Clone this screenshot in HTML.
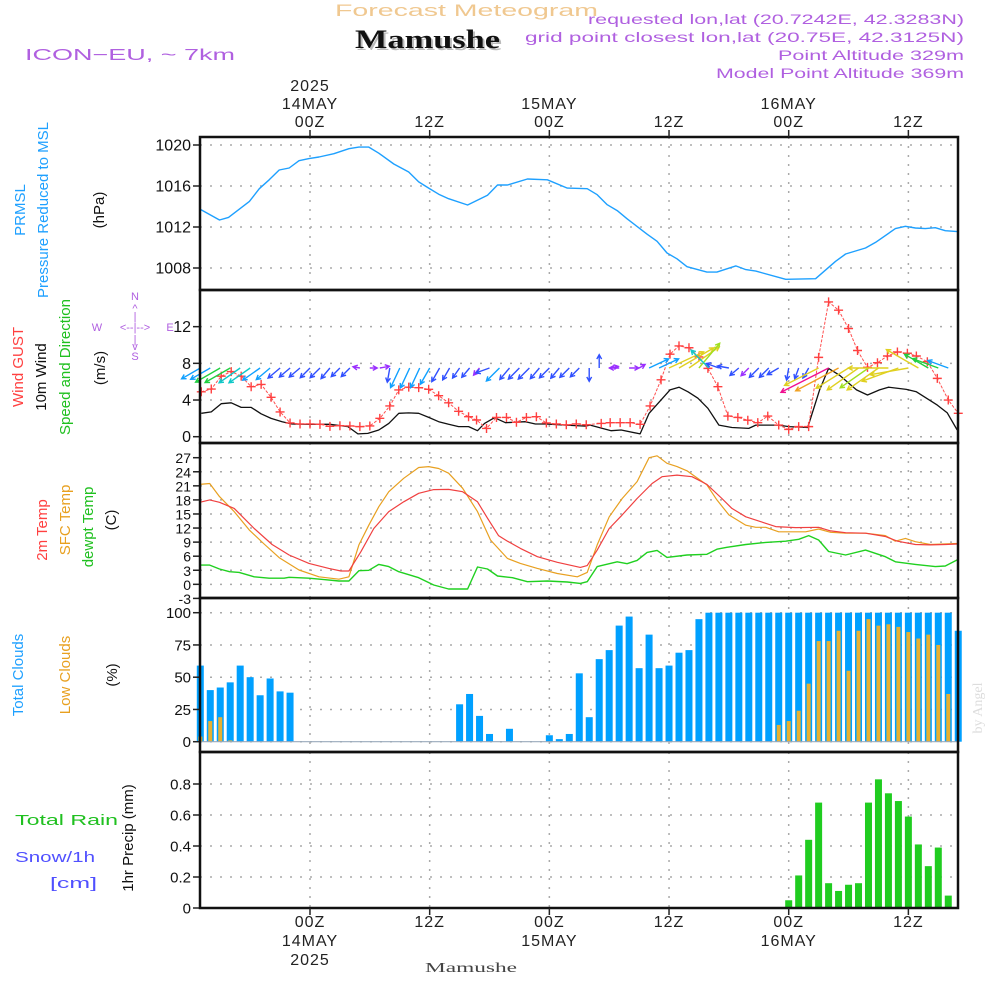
<!DOCTYPE html>
<html><head><meta charset="utf-8"><style>
html,body{margin:0;padding:0;background:#fff;}
svg{display:block;font-family:"Liberation Sans",sans-serif;}
</style></head><body>
<svg id="chart" width="1000" height="1000" viewBox="0 0 1000 1000" xmlns="http://www.w3.org/2000/svg">
<text x="335" y="16" textLength="263" lengthAdjust="spacingAndGlyphs" font-size="17" fill="#f0c890">Forecast Meteogram</text>
<text x="357" y="50" textLength="145" lengthAdjust="spacingAndGlyphs" font-size="26" font-weight="bold" font-family="Liberation Serif, serif" fill="#bbb">Mamushe</text>
<text x="355" y="48" textLength="145" lengthAdjust="spacingAndGlyphs" font-size="26" font-weight="bold" font-family="Liberation Serif, serif" fill="#111">Mamushe</text>
<text x="25" y="60" textLength="210" lengthAdjust="spacingAndGlyphs" font-size="16" fill="#b060e0">ICON−EU, ~ 7km</text>
<g font-size="14" fill="#b060e0">
<text x="588" y="24" textLength="376" lengthAdjust="spacingAndGlyphs">requested lon,lat (20.7242E, 42.3283N)</text>
<text x="525" y="42" textLength="439" lengthAdjust="spacingAndGlyphs">grid point closest lon,lat (20.75E, 42.3125N)</text>
<text x="778" y="60" textLength="186" lengthAdjust="spacingAndGlyphs">Point Altitude 329m</text>
<text x="716" y="78" textLength="248" lengthAdjust="spacingAndGlyphs">Model Point Altitude 369m</text>
</g>
<g id="grid"></g>
<g id="marks"></g>
<g id="frames"></g>
<g id="labels"></g>
<text transform="translate(982,708) rotate(-90)" text-anchor="middle" font-size="14" fill="#ddd" font-family="Liberation Serif, serif">by Angel</text>
<text x="425" y="972" textLength="92" lengthAdjust="spacingAndGlyphs" font-size="14" fill="#444" font-family="Liberation Serif, serif">Mamushe</text>
</svg>
<script>
// ---- data ----
const pressT=[-11.06,-9.07,-8.17,-6.08,-5.08,-4.09,-3.09,-2.09,-1.1,-0.1,0.9,2.4,3.9,4.9,5.9,6.9,8.4,9.9,10.9,11.9,12.9,13.9,15.8,17.8,18.8,19.8,21.8,23.8,25.8,27.8,28.8,29.8,30.8,31.8,33.8,34.8,35.8,36.8,37.8,39.8,40.8,42.7,43.7,44.7,47.7,50.7,52.7,53.7,55.7,56.7,58.7,59.7,60.7,61.7,62.7,63.7,64.9];
const pressV=[1013.76,1012.68,1012.94,1014.5,1015.74,1016.6,1017.56,1017.76,1018.47,1018.67,1018.83,1019.15,1019.64,1019.8,1019.8,1019.2,1018.15,1017.37,1016.4,1015.8,1015.2,1014.76,1014.15,1015.1,1016.1,1016.1,1016.68,1016.6,1015.8,1015.74,1015.15,1014.18,1013.6,1012.8,1011.3,1010.6,1009.46,1008.9,1008.13,1007.6,1007.6,1008.2,1007.84,1007.7,1006.9,1006.96,1008.65,1009.37,1009.95,1010.5,1011.84,1012.07,1011.9,1011.84,1011.93,1011.64,1011.55];

const gustT=[-10.9,-9.9,-8.9,-7.9,-6.9,-5.9,-4.9,-3.9,-3,-2,-1,0,1,2,3,4,5,6,7,8,8.9,9.9,10.9,11.9,12.9,13.9,14.9,15.9,16.7,17.7,18.7,19.7,20.7,21.7,22.7,23.7,24.7,25.7,26.7,27.7,29.2,30.1,31.1,32.1,33.1,34.1,35.2,36.1,37,38,39,39.9,40.9,41.9,42.9,43.9,44.9,45.9,47,48,49,50,51,52,53,54,54.9,55.9,56.9,57.9,58.9,59.9,60.8,61.9,62.9,64,65];
const gustV=[4.9,5.2,6.6,7.1,6.6,5.45,5.7,4.3,2.7,1.5,1.39,1.39,1.35,1.13,1.2,1.17,1.1,1.17,2.0,3.35,5.1,5.4,5.35,5.17,4.47,3.7,2.77,2.18,1.82,0.9,2.1,2.1,1.57,2.1,2.18,1.5,1.39,1.3,1.39,1.3,1.45,1.53,1.53,1.53,1.35,3.35,6.2,9.0,9.9,9.7,8.7,7.45,5.45,2.25,2.1,1.8,1.53,2.25,1.27,0.8,1.1,1.1,8.65,14.7,13.8,11.8,9.4,7.56,8.07,8.8,9.24,9.1,8.8,8.18,6.36,4.0,2.55];

const windT=[-10.9,-9.9,-8.9,-7.9,-6.9,-5.9,-4.9,-3.9,-2.8,-1.8,0,2,3.8,4.8,5.8,6.9,7.9,8.9,9.9,10.9,11.9,12.9,13.9,14.9,15.9,16.8,17.5,18.5,19.6,21.6,22.6,23.6,25.6,27.6,28.1,30.2,31.2,33.1,34,36.1,37,37.9,38.9,39.9,41,42.3,44,44.7,47,48,49.9,51.1,52,53.1,54.8,55.9,57.1,58,59.8,60.8,62.9,63.9,64.9];
const windV=[2.55,2.7,3.6,3.7,3.2,3.2,2.5,2.0,1.64,1.38,1.35,1.35,1.1,0.3,0.36,0.73,1.45,2.55,2.6,2.55,2.1,1.64,1.35,1.1,1.1,0.65,1.45,2.07,1.53,1.64,1.38,1.38,1.27,1.16,1.27,0.65,0.73,0.3,2.55,5.1,5.4,4.9,4.2,3.1,1.27,1.0,0.9,1.27,1.27,1.1,1.0,5.1,7.45,6.7,5.1,4.55,5.1,5.4,5.16,4.9,3.45,2.6,0.73];

// arrow hours and meteorological direction (from, degrees)
const arrowT=[-11,-10,-9,-8,-7,-6,-5,-4,-3,-2,-1,0,1,2,3,4,5,6,7,8,9,10,11,12,13,14,15,16,17,18,19,20,21,22,23,24,25,26,27,28,29,30,31,32,33,34,35,36,37,38,39,40,41,42,43,44,45,46,47,48,49,50,51,52,53,54,55,56,57,58,59,60,61,62,63,64];
const arrowDir=[60,60,60,60,55,55,55,50,50,50,50,45,45,40,45,45,100,270,260,10,25,25,25,30,30,30,35,40,40,70,45,40,45,45,40,45,40,45,45,0,180,260,90,270,240,245,245,245,240,235,220,135,110,100,50,45,45,45,60,10,20,30,63,63,62,58,55,55,55,90,70,80,120,120,110,110];

const t2mT=[-11.06,-10.06,-9.07,-7.6,-5.6,-3.8,-2.1,-0.1,1.9,3.1,3.9,5.1,6.4,7.9,9.4,10.9,12.4,13.9,15.3,16.8,17.8,18.9,19.8,21.1,22.8,24.8,27.1,27.8,28.8,30,31.3,32.8,34.3,35.3,36.8,38.3,39.8,41.3,42.3,43.7,45.2,46.7,48.7,51,52.2,53.7,55.7,57.7,58.9,60.7,62.2,63.7,64.9];
const t2mV=[17.48,18,17.5,16.2,11.9,8.5,6.25,4.47,3.4,2.84,2.84,6.96,11.9,15.5,17.6,19.4,20.2,20.25,19.75,17.6,14.1,10.4,9.2,7.67,5.9,4.7,3.6,4,7.3,11.9,14.8,18.3,21.5,22.95,23.3,22.95,21.3,18.3,16.2,14.4,13.35,12.3,12.1,12.15,11.4,11,10.9,10.2,9.2,8.5,8.4,8.5,8.6];
const sfcT=[-11.06,-10.06,-9.07,-7.6,-6.1,-4.6,-3.1,-1.1,0.9,2.9,3.9,4.9,5.9,6.9,7.9,9.4,10.9,11.9,12.9,13.9,15.3,16.8,18.1,19.8,21.1,22.8,24.8,26.8,27.8,28.8,30,31.3,32.8,34,34.8,35.8,36.8,37.8,39.8,40.8,42,43.7,44.7,45.7,47,49.7,51,52.2,53.7,55.7,57.7,58.7,59.7,60.7,62.2,64.9];
const sfcV=[21.3,21.5,18.7,15.5,11.6,8.6,5.7,3.05,1.6,1.1,1.6,8.4,12.6,16.55,19.75,22.6,24.9,25.1,24.7,23.7,20.5,15.5,9.45,5.5,4.47,3.4,2.3,1.6,2.55,8.4,14.4,18.3,21.9,27,27.4,25.8,25.1,24.2,21.2,18,14.8,12.6,12.15,12.15,11.2,11.2,11.8,11.1,10.9,10.9,10.4,9.2,9.8,9.1,8.5,8.7];
const dewT=[-11.06,-10.06,-9.07,-8.07,-7.1,-5.6,-4.1,-2.6,-2.1,-0.1,1.4,2.9,3.9,4.9,5.9,6.9,7.9,8.9,10.9,12.4,13.9,15.8,16.8,17.8,18.8,20.3,21.8,23.8,25.8,27.1,27.8,28.8,30.8,31.8,32.8,33.8,34.8,35.8,37.8,39.8,40.8,41.8,43.7,45.7,47.7,49,50,51,52,53.7,55.7,57.7,58.7,60.7,62.7,63.7,64.9];
const dewV=[4.1,4.1,3.26,2.7,2.55,1.6,1.3,1.3,1.5,1.3,1,0.7,0.7,2.9,3,4.26,3.77,2.7,1.42,-0.14,-1,-1,3.7,3.26,1.77,1.42,0.57,0.7,0.5,0.2,0.57,3.77,4.8,4.4,5.1,6.8,7.24,5.75,6.25,6.4,7.5,7.9,8.5,8.95,9.2,9.6,10.4,9.45,7,6.25,7.3,5.9,4.8,4.26,3.77,3.9,5.2];

const cloudT=[-11,-10,-9,-8,-7,-6,-5,-4,-3,-2,-1,0,1,2,3,4,5,6,7,8,9,10,11,12,13,14,15,16,17,18,19,20,21,22,23,24,25,26,27,28,29,30,31,32,33,34,35,36,37,38,39,40,41,42,43,44,45,46,47,48,49,50,51,52,53,54,55,56,57,58,59,60,61,62,63,64,65];
const totalCloud=[59,40,42,46,59,50,36,49,39,38,0,0,0,0,0,0,0,0,0,0,0,0,0,0,0,0,29,37,20,6,0,10,0,0,0,5,2,6,53,19,64,71,90,97,57,83,57,59,69,71,95,100,100,100,100,100,100,100,100,100,100,100,100,100,100,100,100,100,100,100,100,100,100,100,100,100,86];
const lowCloud=[4,16,19,1,0,0,0,0,0,0,0,0,0,0,0,0,0,0,0,0,0,0,0,0,0,0,0,0,0,0,0,0,0,0,0,0,0,0,0,0,0,0,0,0,0,0,0,0,0,0,0,0,0,0,0,0,0,0,13,16,24,45,78,78,86,55,86,95,90,91,89,85,80,83,75,37,0];

const rainT=[48,49,50,51,52,53,54,55,56,57,58,59,60,61,62,63,64];
const rainV=[0.05,0.21,0.44,0.68,0.16,0.11,0.15,0.16,0.68,0.83,0.74,0.69,0.59,0.41,0.27,0.39,0.08];

const presTicks=[1020,1016,1012,1008];
const windTicks=[12,8,4,0];
const tempTicks=[27,24,21,18,15,12,9,6,3,0,-3];
const cloudTicks=[100,75,50,25,0];
const rainTicks=[0.8,0.6,0.4,0.2,0];
const timeTicks=[0,12,24,36,48,60];
const topLabels=[["00Z","14MAY","2025"],["12Z"],["00Z","15MAY"],["12Z"],["00Z","16MAY"],["12Z"]];

// ---- scales ----
const L=200,R=958;
const X=t=>310+9.973*t;
const yP=p=>145+(1020-p)*10.25;
const yW=w=>436.7-w*9.17;
const yT=c=>457.7+(27-c)*4.69;
const yC=c=>741.7-c*1.29;
const yR=r=>908-r*155;
const panels=[[137,290],[290,443],[443,598],[598,752],[752,908]];

const NS="http://www.w3.org/2000/svg";
function mk(tag,attrs,parent,text){const e=document.createElementNS(NS,tag);for(const k in attrs)e.setAttribute(k,attrs[k]);if(text!==undefined)e.textContent=text;parent.appendChild(e);return e;}
const grid=document.getElementById('grid'),marks=document.getElementById('marks'),frames=document.getElementById('frames'),labels=document.getElementById('labels');

panels.forEach((p,i)=>{
  timeTicks.forEach(t=>{
    const g=mk('line',{x1:X(t),x2:X(t),y1:p[0],y2:p[1],stroke:'#aaa','stroke-width':1.5,'stroke-dasharray':'2,7'},grid);
    
    
  });
});
function hTicks(ticks,yf,name,fs){
  ticks.forEach(v=>{
    const y=yf(v);
    const g=mk('line',{x1:L,x2:R,y1:y,y2:y,stroke:'#aaa','stroke-width':1.5,'stroke-dasharray':'2,8'},grid);
    
    
    mk('line',{x1:L-7,x2:L,y1:y,y2:y,stroke:'#222','stroke-width':1.5},frames);
    const tx=mk('text',{x:L-9,y:y+5.5,'text-anchor':'end','font-size':fs,fill:'#111'},labels,String(v));
    
    
  });
}
hTicks(presTicks,yP,'pressure',16);
hTicks(windTicks,yW,'wind',16);
hTicks(tempTicks,yT,'temp',14);
hTicks(cloudTicks,yC,'cloud',15);
hTicks(rainTicks,yR,'precip',15);

function line(ts,vs,yf,color,name,w){
  const d=ts.map((t,i)=>(i?'L':'M')+X(t).toFixed(1)+','+yf(vs[i]).toFixed(1)).join('');
  const p=mk('path',{d:d,fill:'none',stroke:color,'stroke-width':w||1.3,'stroke-linejoin':'round'},marks);
  
  
  return p;
}
line(pressT,pressV,yP,'#1ea0ff','pressure-line',1.4);
cloudT.forEach((t,i)=>{
  if(totalCloud[i]>0){
    const b=mk('rect',{x:X(t)-3.5,y:yC(totalCloud[i]),width:7,height:yC(0)-yC(totalCloud[i]),fill:'#00a0ff'},marks);
    
    
  }
  if(lowCloud[i]>0){
    const b=mk('rect',{x:X(t)-2,y:yC(lowCloud[i]),width:4,height:yC(0)-yC(lowCloud[i]),fill:'#e8b030'},marks);
    
    
  }
});
mk('line',{x1:L,x2:R,y1:yC(0),y2:yC(0),stroke:'#9ab','stroke-width':1.2},marks);
rainT.forEach((t,i)=>{
  const b=mk('rect',{x:X(t)-3.5,y:yR(rainV[i]),width:7,height:yR(0)-yR(rainV[i]),fill:'#20cc20'},marks);
  
  
});
line(sfcT,sfcV,yT,'#e8a020','sfc-temp-line',1.2);
line(t2mT,t2mV,yT,'#f04040','temp-2m-line',1.2);
line(dewT,dewV,yT,'#20d020','dewpoint-line',1.4);
line(windT,windV,yW,'#111','wind-10m-line',1.3);
const gl=line(gustT,gustV,yW,'#ff5050','gust-line',1);
gl.setAttribute('stroke-dasharray','3,1.5');
gustT.forEach((t,i)=>{
  const x=X(t),y=yW(gustV[i]);
  const g=mk('path',{d:`M${x-4.5},${y}H${x+4.5}M${x},${y-4.5}V${y+4.5}`,stroke:'#ff4040','stroke-width':1.4},marks);
  
  
});
function nearestWind(t){let b=0;for(let i=1;i<windT.length;i++)if(Math.abs(windT[i]-t)<Math.abs(windT[b]-t))b=i;return windV[b];}
function spdColor(s){if(s<1)return'#9b30ff';if(s<2)return'#3050ff';if(s<2.8)return'#10a0ff';if(s<3.4)return'#10c8c8';if(s<4.2)return'#20d040';if(s<4.8)return'#a0e020';if(s<5.6)return'#e0d020';if(s<7)return'#f0a020';return'#f01090';}
arrowT.forEach((t,i)=>{
  const s=nearestWind(t);
  const len=5+6.5*s;
  const th=arrowDir[i]*Math.PI/180;
  const dx=-Math.sin(th)*len,dy=Math.cos(th)*len;
  const x0=X(t),y0=368,x1=x0+dx,y1=y0+dy;
  const a=Math.atan2(dy,dx),h=5;
  const c=spdColor(s);
  const d=`M${x0.toFixed(1)},${y0}L${x1.toFixed(1)},${y1.toFixed(1)}M${(x1-h*Math.cos(a-0.5)).toFixed(1)},${(y1-h*Math.sin(a-0.5)).toFixed(1)}L${x1.toFixed(1)},${y1.toFixed(1)}L${(x1-h*Math.cos(a+0.5)).toFixed(1)},${(y1-h*Math.sin(a+0.5)).toFixed(1)}`;
  const p=mk('path',{d:d,fill:'none',stroke:c,'stroke-width':1.4},marks);
  
  
});

panels.forEach(p=>{
  const r=mk('rect',{x:L,y:p[0],width:R-L,height:p[1]-p[0],fill:'none',stroke:'#111','stroke-width':2.5},frames);
  
  
});
timeTicks.forEach((t,i)=>{
  const x=X(t);
  mk('line',{x1:x,x2:x,y1:130,y2:137,stroke:'#222','stroke-width':1.5},frames);
  mk('line',{x1:x,x2:x,y1:908,y2:915,stroke:'#222','stroke-width':1.5},frames);
  const lab=topLabels[i];
  lab.forEach((s,j)=>{
    const tt=mk('text',{x:x,y:127-j*18,'text-anchor':'middle','font-size':16,fill:'#222','letter-spacing':1},labels,s);
    
    
    const bt=mk('text',{x:x,y:927+j*19,'text-anchor':'middle','font-size':16,fill:'#222','letter-spacing':1},labels,s);
    
    
  });
});
const rt=[["PRMSL",25,210,'#1ea0ff'],["Pressure Reduced to MSL",48,210,'#1ea0ff'],["(hPa)",104,210,'#111'],
["Wind GUST",23,367,'#ff4040'],["10m Wind",46,377,'#111'],["Speed and Direction",70,367,'#20c020'],["(m/s)",105,368,'#111'],
["2m Temp",47,530,'#ff4040'],["SFC Temp",70,520,'#e8a020'],["dewpt Temp",93,527,'#20c020'],["(C)",116,520,'#111'],
["Total Clouds",23,675,'#1ea0ff'],["Low Clouds",70,675,'#e8a020'],["(%)",117,675,'#111'],
["1hr Precip (mm)",133,838,'#111']];
rt.forEach(r=>{
  const e=mk('text',{transform:`translate(${r[1]},${r[2]}) rotate(-90)`,'text-anchor':'middle','font-size':15,fill:r[3]},labels,r[0]);
  
  
});
const ht=[["Total  Rain",15,825,'#20c020',103],["Snow/1h",15,862,'#5050ff',80],["[cm]",50,888,'#5050ff',47]];
ht.forEach(r=>{
  const e=mk('text',{x:r[1],y:r[2],'font-size':15,fill:r[3],textLength:r[4],lengthAdjust:'spacingAndGlyphs','xml:space':'preserve'},labels,r[0]);
  
  
});
const cp=[["N",135,300],["^",135,312],["|",135,320],["W",97,331],["<--|-->",135,331],["E",170,331],["|",135,343],["v",135,350],["S",135,360]];
cp.forEach(c=>{
  const e=mk('text',{x:c[1],y:c[2],'text-anchor':'middle','font-size':11,fill:'#b060e0'},labels,c[0]);
  
  
});
</script>
</body></html>
